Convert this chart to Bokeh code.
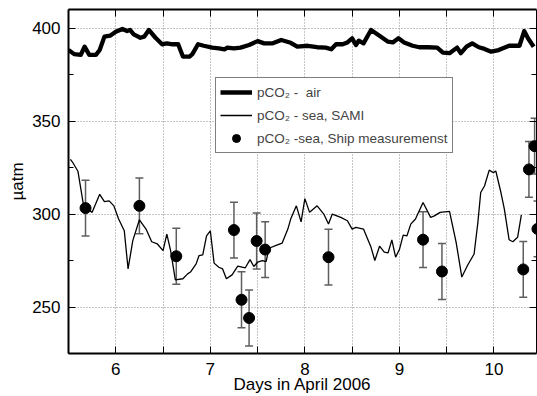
from bokeh.plotting import figure
from bokeh.models import (Range1d, LinearAxis, FixedTicker, CustomJSTickFormatter,
                          ColumnDataSource, Whisker, TeeHead, Legend, LegendItem)
from bokeh.embed import file_html
from bokeh.resources import INLINE

# ---------------- data ----------------
air_day = [5.50, 5.56, 5.63, 5.67, 5.72, 5.79, 5.83, 5.88, 5.94, 6.00, 6.07, 6.12, 6.15, 6.19,
           6.26, 6.30, 6.35, 6.42, 6.49, 6.54, 6.60, 6.66, 6.71, 6.78, 6.81, 6.87, 6.93, 7.02,
           7.09, 7.15, 7.18, 7.25, 7.32, 7.41, 7.50, 7.57, 7.66, 7.75, 7.85, 7.92, 8.03, 8.13,
           8.22, 8.28, 8.33, 8.40, 8.45, 8.50, 8.54, 8.57, 8.62, 8.70, 8.77, 8.88, 8.93, 8.99,
           9.05, 9.14, 9.21, 9.30, 9.40, 9.46, 9.53, 9.61, 9.65, 9.71, 9.77, 9.84, 9.90, 9.97,
           10.05, 10.16, 10.27, 10.32, 10.36, 10.42]
air_val = [388.2, 386.0, 385.6, 390.0, 385.6, 385.6, 388.2, 395.4, 395.9, 398.0, 399.5, 398.4,
           399.0, 396.6, 394.8, 395.4, 399.0, 394.8, 391.3, 391.8, 391.3, 391.3, 384.7, 384.7,
           386.0, 391.3, 390.5, 389.5, 389.1, 388.6, 389.5, 389.1, 389.5, 390.9, 393.0, 391.8,
           391.8, 393.6, 392.1, 390.0, 390.5, 389.7, 389.5, 388.6, 391.3, 391.3, 392.3, 394.5,
           390.9, 393.2, 391.8, 399.0, 396.6, 392.7, 392.3, 394.5, 392.3, 390.5, 389.7, 389.7,
           389.5, 386.8, 386.5, 389.5, 386.5, 390.0, 391.8, 389.7, 388.8, 387.3, 388.2, 390.5,
           390.5, 398.4, 394.5, 390.0]

sami_day = [5.52, 5.54, 5.60, 5.66, 5.75, 5.83, 5.88, 5.93, 5.98, 6.03, 6.09, 6.13, 6.18, 6.25,
            6.32, 6.38, 6.44, 6.50, 6.54, 6.58, 6.63, 6.71, 6.76, 6.79, 6.85, 6.88, 6.92, 6.96,
            7.00, 7.04, 7.09, 7.13, 7.17, 7.23, 7.29, 7.37, 7.42, 7.46, 7.50, 7.55, 7.59, 7.62,
            7.71, 7.76, 7.82, 7.85, 7.91, 7.96, 8.00, 8.05, 8.13, 8.20, 8.25, 8.29, 8.38, 8.45,
            8.50, 8.54, 8.62, 8.70, 8.74, 8.79, 8.84, 8.88, 8.92, 8.96, 9.00, 9.04, 9.08, 9.12,
            9.17, 9.25, 9.33, 9.37, 9.43, 9.53, 9.60, 9.66, 9.72, 9.79, 9.83, 9.86, 9.90, 9.95,
            9.99, 10.02, 10.07, 10.11, 10.16, 10.20, 10.25, 10.29]
sami_val = [329.4, 328.1, 323.0, 304.4, 300.9, 310.6, 306.7, 307.1, 304.4, 297.3, 291.0, 270.5,
            285.7, 296.9, 291.9, 285.1, 283.9, 280.3, 289.2, 280.3, 264.6, 265.2, 267.8, 268.8,
            273.2, 277.6, 278.0, 288.3, 291.0, 273.6, 271.4, 270.5, 265.2, 267.3, 272.0, 271.1,
            275.5, 271.8, 274.1, 275.0, 274.4, 281.6, 283.4, 284.4, 291.9, 297.3, 304.4, 295.8,
            308.3, 300.9, 304.4, 300.0, 294.6, 300.0, 298.2, 296.4, 291.9, 292.8, 291.9, 282.1,
            275.0, 282.7, 279.5, 279.1, 286.1, 276.8, 280.9, 288.7, 288.3, 294.6, 297.3, 306.2,
            298.2, 299.0, 300.9, 301.4, 284.8, 266.1, 272.3, 278.5, 295.5, 311.6, 315.1, 323.6,
            322.3, 323.1, 312.4, 302.6, 286.2, 285.1, 287.5, 299.6]

ship_day = [5.68, 6.25, 6.64, 7.25, 7.33, 7.41, 7.49, 7.58, 8.25, 9.25, 9.45, 10.31, 10.37, 10.43, 10.46]
ship_val = [303.2, 304.4, 277.3, 291.4, 253.9, 244.1, 285.5, 280.9, 276.8, 286.2, 269.1, 270.2,
            324.0, 336.5, 292.0]
ship_err = [15, 15, 15, 15, 15, 15, 15, 15, 15, 15, 15, 15, 15, 15, 15]

x_ticks = [5.5, 6.0, 6.5, 7.0, 7.5, 8.0, 8.5, 9.0, 9.5, 10.0, 10.5]
y_ticks = [250, 300, 350, 400]
y_minor = [225, 275, 325, 375]

labels = ["pCO\u2082 -  air", "pCO\u2082 - sea, SAMI", "pCO\u2082 -sea, Ship measuremenst"]
x_title = "Days in April 2006"
y_title = "\u00b5atm"

FONT = "Liberation Sans"

# ---------------- figure ----------------
p = figure(width=537, height=396, x_range=Range1d(5.5, 10.45), y_range=Range1d(225, 410),
           output_backend="svg", toolbar_location=None,
           min_border_left=68, min_border_top=9, min_border_right=1, min_border_bottom=41)
p.outline_line_color = None
p.background_fill_color = "white"
p.border_fill_color = "white"

xt = FixedTicker(ticks=x_ticks, minor_ticks=[])
yt = FixedTicker(ticks=y_ticks, minor_ticks=y_minor)
xfmt = CustomJSTickFormatter(code="return Number.isInteger(tick) ? tick.toFixed(0) : '';")
blank = CustomJSTickFormatter(code="return '';")

xa = p.xaxis[0]
xa.ticker = xt
xa.formatter = xfmt
xa.axis_label = x_title
ya = p.yaxis[0]
ya.ticker = yt
ya.axis_label = y_title

for ax in (xa, ya):
    ax.major_label_text_font = FONT
    ax.major_label_text_font_size = "17px"
    ax.major_label_text_color = "black"
    ax.axis_label_text_font = FONT
    ax.axis_label_text_font_size = "17px"
    ax.axis_label_text_font_style = "normal"
    ax.axis_label_text_color = "black"
    ax.axis_line_width = 2
    ax.axis_line_color = "black"
    ax.major_tick_in = 7
    ax.major_tick_out = 0
    ax.minor_tick_in = 5
    ax.minor_tick_out = 0
    ax.major_tick_line_color = "black"
    ax.minor_tick_line_color = "black"
xa.major_label_standoff = 9
xa.axis_label_standoff = -3
ya.major_label_standoff = 8
ya.axis_label_standoff = 2

top = LinearAxis(ticker=xt, formatter=blank, major_label_text_font_size="0px",
                 major_label_standoff=0, major_tick_in=7, major_tick_out=0,
                 minor_tick_in=0, minor_tick_out=0, axis_line_width=1.8)
right = LinearAxis(ticker=yt, formatter=blank, major_label_text_font_size="0px",
                   major_label_standoff=0, major_tick_in=7, major_tick_out=0,
                   minor_tick_in=5, minor_tick_out=0, axis_line_width=1)
p.add_layout(top, "above")
p.add_layout(right, "right")

p.xgrid.grid_line_color = "#8a8a8a"
p.xgrid.grid_line_dash = "1 2"
p.xgrid.grid_line_width = 1
p.ygrid.grid_line_color = "#8a8a8a"
p.ygrid.grid_line_dash = "1 2"
p.ygrid.grid_line_width = 1

# ---------------- glyphs ----------------
r_air = p.line(air_day, air_val, line_color="black", line_width=4.3, line_join="round")
r_sami = p.line(sami_day, sami_val, line_color="black", line_width=1.3)

ship_src = ColumnDataSource(dict(
    day=ship_day, val=ship_val,
    upper=[v + e for v, e in zip(ship_val, ship_err)],
    lower=[v - e for v, e in zip(ship_val, ship_err)]))
ERR = "#5e5e5e"
wh = Whisker(base="day", upper="upper", lower="lower", source=ship_src,
             line_color=ERR, line_width=1.5,
             upper_head=TeeHead(size=8, line_color=ERR, line_width=1.5),
             lower_head=TeeHead(size=8, line_color=ERR, line_width=1.5))
p.add_layout(wh)
r_ship = p.scatter("day", "val", source=ship_src, size=11, color="black")

legend = Legend(items=[LegendItem(label=labels[0], renderers=[r_air]),
                       LegendItem(label=labels[1], renderers=[r_sami]),
                       LegendItem(label=labels[2], renderers=[r_ship])],
                location=(147, 200), padding=4, spacing=3, margin=0,
                glyph_width=32, glyph_height=20, label_height=20, label_standoff=5,
                label_text_font=FONT, label_text_font_size="13.5px",
                border_line_color="black", border_line_width=1,
                background_fill_color="white", background_fill_alpha=1)
p.add_layout(legend)

open("out.html", "w").write(file_html(p, INLINE))
